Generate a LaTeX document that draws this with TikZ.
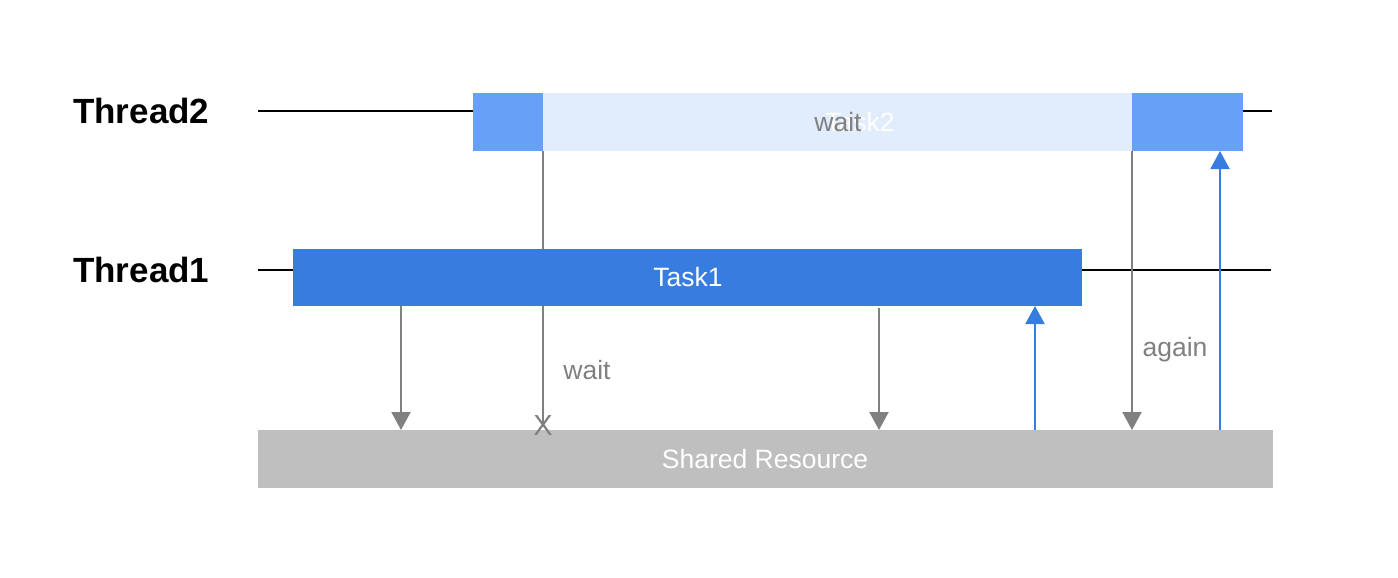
\documentclass[tikz,border=0pt]{standalone}
\usepackage{fontspec}
\setmainfont{Liberation Sans}
\usetikzlibrary{arrows.meta}
\definecolor{taskblue}{HTML}{377DE0}
\definecolor{midblue}{HTML}{66A1F7}
\definecolor{paleblue}{HTML}{E1ECFC}
\definecolor{resgray}{HTML}{BFBFBF}
\definecolor{arrgray}{HTML}{808080}
\tikzset{
  bar/.style={draw=none, inner sep=0pt, anchor=north west},
  threadlabel/.style={font=\fontsize{35}{40}\selectfont\bfseries, text=black, anchor=west, inner sep=0pt},
  lbl/.style={font=\fontsize{26.5}{30}\selectfont, inner sep=0pt},
  tline/.style={line width=2pt, black},
  garrow/.style={line width=2pt, arrgray, -{Triangle[width=19pt,length=18pt]}},
  barrow/.style={line width=2pt, taskblue, -{Triangle[width=19pt,length=18pt]}},
  gline/.style={line width=2pt, arrgray},
}
\begin{document}
\begin{tikzpicture}[x=1pt,y=-1pt]
\useasboundingbox[fill=white] (0,0) rectangle (1398,578);
% thread lines
\coordinate (t2s) at (258,111);
\coordinate (t2e) at (1272,111);
\coordinate (t1s) at (258,270);
\coordinate (t1e) at (1271,270);
\draw[tline] (t2s) -- (t2e);
\draw[tline] (t1s) -- (t1e);
% labels
\node[threadlabel] (th2) at (73,111) {Thread2};
\node[threadlabel] (th1) at (73,270) {Thread1};
% Task2 bar
\node[bar, fill=midblue, minimum width=70pt, minimum height=58pt] (t2a) at (473,93) {};
\node[bar, fill=paleblue, minimum width=589pt, minimum height=58pt] (t2b) at (543,93) {};
\node[bar, fill=midblue, minimum width=111pt, minimum height=58pt] (t2c) at (1132,93) {};
% long wait line (behind Task1)
\coordinate (xw) at (543,427);
\draw[gline] (t2b.south west) -- (xw);
% Task1 bar
\node[bar, fill=taskblue, minimum width=789pt, minimum height=57pt] (task1) at (293,249) {};
\node[lbl, text=white] (task1l) at (688,277) {Task1};
% labels on Task2
\node[lbl, text=white] (task2l) at (860,122) {Task2};
\node[lbl, text=arrgray] (waitT) at (838,122) {wait};
% shared resource
\node[bar, fill=resgray, minimum width=1015pt, minimum height=58pt] (res) at (258,430) {};
\node[lbl, text=white] (resl) at (765,459) {Shared Resource};
% X mark
\node[lbl, text=arrgray, font=\fontsize{29}{32}\selectfont] (xm) at (543,426) {X};
\node[lbl, text=arrgray] (waitl) at (587,370) {wait};
% arrow end points
\coordinate (a1s) at (401,306);  \coordinate (a1e) at (401,430);
\coordinate (a2s) at (879,308);  \coordinate (a2e) at (879,430);
\coordinate (a3s) at (1035,430); \coordinate (a3e) at (1035,306);
\coordinate (a4e) at (1132,430);
\coordinate (a5s) at (1220,430); \coordinate (a5e) at (1220,151);
% arrows
\draw[garrow] (a1s) -- (a1e);
\draw[garrow] (a2s) -- (a2e);
\draw[barrow] (a3s) -- (a3e);
\draw[garrow] (t2c.south west) -- (a4e);
\draw[barrow] (a5s) -- (a5e);
\node[lbl, text=arrgray] (again) at (1175,350) {again};
\end{tikzpicture}
\end{document}
